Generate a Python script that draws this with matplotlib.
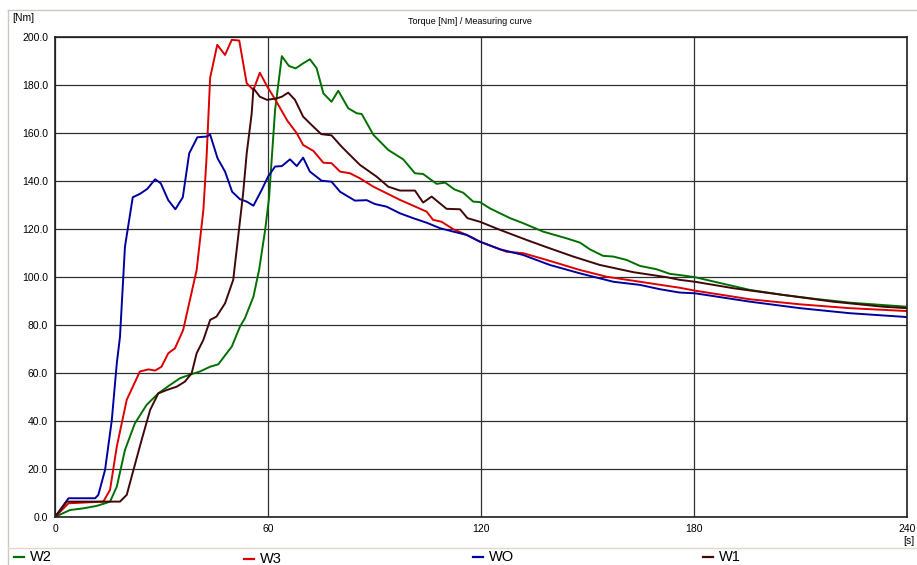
"""Torque measuring curves for four test pieces (W2, W3, WO, W1)."""

import matplotlib

matplotlib.use("Agg")
import matplotlib.pyplot as plt
from matplotlib.lines import Line2D

plt.rcParams["font.family"] = ["Liberation Sans", "DejaVu Sans"]

# time [s] / torque [Nm]
w2_x = [0, 4.2, 8, 11.7, 14.1, 15.5, 17.4, 19.7, 22.5, 25.8, 29.1, 32.4, 35.2,
        38, 40.8, 43.7, 46, 49.8, 52.1, 53.5, 55.9, 57.5, 59.2, 60.3, 62, 63.9,
        65.9, 67.8, 69.9, 71.8, 73.7, 75.6, 77.9, 79.8, 82.6, 85, 86.4, 89.7,
        93.9, 98.1, 101.4, 103.7, 107.5, 109.9, 112.5, 115, 117.8, 119.7, 122.5,
        128.2, 131.9, 137.5, 144.1, 147.9, 150.7, 154.4, 157.3, 161, 164.8,
        169.5, 173.2, 176, 180.3, 186.4, 195.8, 205.2, 214.6, 223.9, 233.3, 240]
w2_y = [0, 2.9, 3.6, 4.6, 5.7, 6.4, 12.6, 27.9, 39, 46.7, 51.5, 55, 57.8,
        59.3, 60.6, 62.6, 63.6, 71, 79.3, 82.8, 91.8, 103, 119.6, 133, 169.6, 192,
        187.9, 186.9, 189, 190.7, 187, 176.5, 173, 177.6, 170.3, 168.2, 167.9, 159.2,
        152.9, 149, 143.2, 142.9, 138.8, 139.3, 136.5, 135.1, 131.4, 131.2, 128.6,
        124.5, 122.4, 118.9, 116.1, 114.3, 111.5, 108.8, 108.5, 107.1, 104.6,
        103.2, 101.3, 100.8, 99.9, 97.8, 94.6, 92.5, 90.8, 89.3, 88.3, 87.6]

w3_x = [0, 3.8, 13.6, 15.5, 17.4, 20.2, 23.9, 26.3, 28.2, 30, 31.9, 33.8, 36.1,
        39.9, 41.8, 42.7, 43.7, 45.7, 47.9, 49.8, 51.9, 54, 55.9, 57.7, 59.8, 62,
        65.5, 68.1, 69.9, 72.8, 75.6, 77.9, 80.3, 83.1, 85.9, 89.7, 93.4, 97.2,
        100.9, 104.7, 106.5, 108.9, 112.2, 116, 119.7, 127.2, 131.9, 138.5, 147.9,
        155.4, 164.8, 176, 180.3, 195.8, 209.9, 223.9, 240]
w3_y = [0, 5.7, 6.4, 11.3, 29.3, 48.8, 60.6, 61.5, 61, 62.6, 68.2, 70.3, 77.9,
        102.9, 128, 150, 183, 196.7, 192.5, 198.8, 198.5, 180.7, 177.9, 185.1, 179.3, 174,
        165, 159.9, 155, 152.5, 147.6, 147.4, 143.9, 143.2, 141.1, 137.6, 134.9, 132.1,
        129.7, 127.2, 123.8, 123, 119.9, 117.5, 114.7, 110.5, 109.9, 107.1, 102.9,
        100.1, 98, 95.5, 94.3, 90.7, 88.6, 87, 85.8]

wo_x = [0, 3.8, 11.3, 12.2, 14.1, 16, 17.4, 18.3, 19.7, 21.9, 23.9, 26, 28.2,
        29.8, 31.9, 33.9, 36, 37.8, 40.1, 42.7, 43.7, 45.8, 47.9, 49.9, 52.1, 54,
        55.9, 58.2, 60.1, 62, 63.9, 66.2, 68.1, 69.9, 71.8, 75.1, 77.9, 80.3, 84.5,
        87.8, 90.1, 93.4, 97.2, 100.9, 104.7, 108.5, 112.2, 116, 119.7, 125.4,
        131.8, 139.4, 147.9, 157.3, 164.8, 170.4, 176, 180.3, 195.8, 209.9, 223.9, 240]
wo_y = [0, 7.8, 7.8, 9.2, 19.6, 40.4, 64, 75, 112.6, 133.2, 134.6, 136.7, 140.7,
        139, 132, 128.2, 133.2, 151.5, 158.2, 158.5, 159.3, 149.4, 143.9, 135.5, 132.4, 131.4,
        129.7, 136.2, 142, 146, 146.2, 149, 146.2, 149.7, 143.9, 140.1, 139.7, 135.5, 131.8,
        132, 130.4, 129.3, 126.5, 124.5, 122.6, 120.3, 118.9, 117.5, 114.7, 111.5,
        109.2, 105, 101.5, 98, 96.7, 94.9, 93.5, 93.2, 89.7, 87, 84.9, 83.3]

w1_x = [0, 3.3, 18.3, 20.2, 22.1, 24.4, 26.8, 29.1, 31.5, 34.3, 36.6, 38.5, 39.9,
        41.8, 43.7, 45.5, 47.9, 50.2, 51.6, 53, 54, 55.4, 55.9, 57.7, 59.7, 62.4,
        63.9, 65.7, 67.6, 69.9, 72.3, 75, 77.9, 80.3, 81.2, 85.9, 90.6, 93.9, 97.2,
        101.4, 103.7, 106.1, 110.3, 114.1, 116.2, 119.7, 125.4, 132.9, 138.5, 146,
        153.5, 162.9, 172.3, 176, 180.3, 191.1, 205.2, 219.2, 233.3, 240]
w1_y = [0, 6.4, 6.4, 9.2, 19.6, 32.1, 44.6, 51.5, 52.9, 54.3, 56.4, 59.9, 68.2,
        73.8, 82.1, 83.5, 89, 98.8, 116.8, 134.9, 151.5, 168, 178.6, 175.1, 173.8, 174.4,
        175.1, 176.8, 173.8, 166.8, 163.3, 159.5, 159, 155, 153.6, 146.7, 141.8, 137.6, 136,
        136, 131, 133.5, 128.4, 128.2, 124.5, 123, 119.6, 115.4, 112.4, 108.5,
        105, 102, 99.9, 98.8, 98, 95.3, 92.5, 89.7, 87.6, 87]

names = ["W2", "W3", "WO", "W1"]
colors = ["#007000", "#dd0000", "#0000a0", "#400808"]
series = [(w2_x, w2_y), (w3_x, w3_y), (wo_x, wo_y), (w1_x, w1_y)]

fig = plt.figure(figsize=(9.17, 5.65), dpi=100)
ax = fig.add_axes([0.060, 0.085, 0.929, 0.8496])

for (xs, ys), color in zip(series, colors):
    ax.plot(xs, ys, color=color, lw=1.4)

ax.set_xlim(0, 240)
ax.set_ylim(0, 200)
ax.set_xticks(range(0, 241, 60))
ax.set_yticks(range(0, 201, 20))
ax.set_yticklabels([f"{v:.1f}" for v in range(0, 201, 20)])
ax.tick_params(length=0, labelsize=7.5, pad=5)
ax.grid(True, color="#303030", lw=0.9)
ax.set_axisbelow(True)
for spine in ax.spines.values():
    spine.set_color("#202020")
    spine.set_linewidth(1.2)

# frame and labels around the plot
fig.add_artist(Line2D([8 / 917, 1], [1 - 10 / 565] * 2, color="#c8c8c0", lw=1))
fig.add_artist(Line2D([8 / 917] * 2, [0, 1 - 10 / 565], color="#c8c8c0", lw=1))
fig.add_artist(Line2D([8 / 917, 1], [1 - 548 / 565] * 2, color="#e0d8d0", lw=1))
fig.text(0.513, 1 - 22 / 565, "Torque [Nm] / Measuring curve",
         fontsize=6.5, ha="center", va="center")
fig.text(12 / 917, 1 - 18 / 565, "[Nm]", fontsize=7.5, va="center")
fig.text(915 / 917, 1 - 541 / 565, "[s]", fontsize=7.5, ha="right", va="center")

# legend row at the bottom
for i, (name, color) in enumerate(zip(names, colors)):
    x0 = (14 + i * 229.5) / 917
    y0 = 1 - (557 + (2 if i == 1 else 0)) / 565
    fig.add_artist(Line2D([x0, x0 + 10 / 917], [y0] * 2, color=color, lw=1.6))
    fig.text(x0 + 16 / 917, y0, name, fontsize=10.5, va="center")

fig.savefig("out.png", dpi=100)
